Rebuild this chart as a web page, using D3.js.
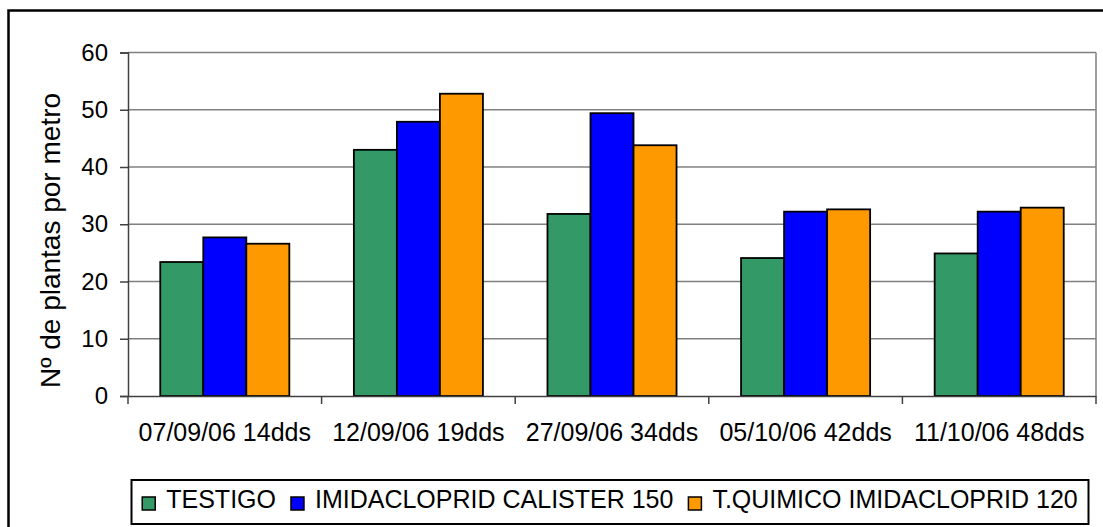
<!DOCTYPE html>
<html>
<head>
<meta charset="utf-8">
<script src="https://cdn.jsdelivr.net/npm/d3@7"></script>
<style>
  html, body { margin: 0; padding: 0; background: #fff; }
  svg { display: block; font-family: "Liberation Sans", Arial, sans-serif; }
</style>
</head>
<body>
<div id="chart"></div>
<script>
// --- data ---
const categories = ["07/09/06 14dds", "12/09/06 19dds", "27/09/06 34dds", "05/10/06 42dds", "11/10/06 48dds"];
const seriesNames = ["TESTIGO", "IMIDACLOPRID CALISTER 150", "T.QUIMICO IMIDACLOPRID 120"];
const testigo   = [23.4, 43.0, 31.8, 24.1, 24.9];
const calister  = [27.7, 47.9, 49.4, 32.2, 32.2];
const quimico   = [26.6, 52.8, 43.8, 32.6, 32.9];
const yTicks = [0, 10, 20, 30, 40, 50, 60];
const colors = ["#339966", "#0000FF", "#FF9900"];

const seriesValues = [testigo, calister, quimico];

const W = 1103, H = 527;
const plot = { left: 128, right: 1096, top: 52.5, bottom: 396 };

const svg = d3.select("#chart").append("svg")
    .attr("width", W).attr("height", H);

// outer chart frame (runs off the right/bottom of the picture)
svg.append("rect")
    .attr("x", 8.5).attr("y", 10.5)
    .attr("width", 1110).attr("height", 540)
    .attr("fill", "#fff").attr("stroke", "#000").attr("stroke-width", 2.5);

const x0 = d3.scaleBand().domain(categories).range([plot.left, plot.right]);
const gapPx = x0.bandwidth() * 0.75 / 4.5;   // excel gap width 150%
const x1 = d3.scaleBand().domain(d3.range(seriesNames.length))
    .range([gapPx, x0.bandwidth() - gapPx]);
const y = d3.scaleLinear().domain([0, 60]).range([plot.bottom, plot.top]);

// gridlines
svg.append("g").selectAll("line")
    .data(yTicks.filter(d => d > 0))
    .join("line")
    .attr("x1", plot.left).attr("x2", plot.right)
    .attr("y1", d => y(d)).attr("y2", d => y(d))
    .attr("stroke", "#808080").attr("stroke-width", 1.5);

// plot area right border
svg.append("line")
    .attr("x1", plot.right).attr("x2", plot.right)
    .attr("y1", plot.top).attr("y2", plot.bottom)
    .attr("stroke", "#808080").attr("stroke-width", 1.5);

// bars
const rows = categories.map((c, i) => ({ cat: c, vals: seriesValues.map(s => s[i]) }));
svg.append("g").selectAll("g")
    .data(rows)
    .join("g")
    .attr("transform", d => `translate(${x0(d.cat)},0)`)
    .selectAll("rect")
    .data(d => d.vals.map((v, k) => ({ k, v })))
    .join("rect")
    .attr("x", d => x1(d.k))
    .attr("width", x1.bandwidth())
    .attr("y", d => y(d.v))
    .attr("height", d => y(0) - y(d.v))
    .attr("fill", d => colors[d.k])
    .attr("stroke", "#000").attr("stroke-width", 1.8);

// y axis
const yAxis = svg.append("g")
    .attr("transform", `translate(${plot.left},0)`)
    .call(d3.axisLeft(y).tickValues(yTicks).tickSizeOuter(0).tickSize(8).tickPadding(12));
yAxis.select(".domain").attr("stroke", "#404040").attr("stroke-width", 1.5);
yAxis.selectAll(".tick line").attr("stroke", "#404040").attr("stroke-width", 1.5);
yAxis.selectAll(".tick text")
    .attr("fill", "#000").style("font-size", "24px")
    .attr("font-family", null);

// x axis
const xAxis = svg.append("g")
    .attr("transform", `translate(0,${plot.bottom})`)
    .call(d3.axisBottom(x0).tickSize(0).tickSizeOuter(0).tickPadding(27));
xAxis.select(".domain").attr("stroke", "#404040").attr("stroke-width", 1.5);
xAxis.selectAll(".tick text")
    .attr("fill", "#000").style("font-size", "25px")
    .attr("font-family", null);
// category separators
const bounds = categories.map(c => x0(c)).concat([plot.right]);
xAxis.append("g").selectAll("line")
    .data(bounds)
    .join("line")
    .attr("x1", d => d).attr("x2", d => d)
    .attr("y1", 0).attr("y2", 8)
    .attr("stroke", "#404040").attr("stroke-width", 1.5);

// y axis title
svg.append("text")
    .attr("transform", `translate(60,${(88 + 393) / 2}) rotate(-90)`)
    .attr("text-anchor", "middle")
    .style("font-size", "28px")
    .text("Nº de plantas por metro");

// legend
const lg = { x: 131.5, y: 480, w: 957, h: 44 };
svg.append("rect")
    .attr("x", lg.x).attr("y", lg.y).attr("width", lg.w).attr("height", lg.h)
    .attr("fill", "#fff").attr("stroke", "#000").attr("stroke-width", 2);

const legend = svg.append("g");
const items = legend.selectAll("g").data(seriesNames).join("g");
items.append("rect")
    .attr("width", 13).attr("height", 13)
    .attr("y", 497)
    .attr("fill", (d, i) => colors[i])
    .attr("stroke", "#000").attr("stroke-width", 1.5);
items.append("text")
    .attr("y", 508)
    .style("font-size", "25px")
    .text(d => d);

let cx = 0;
items.each(function () {
    const g = d3.select(this);
    g.select("rect").attr("x", cx);
    g.select("text").attr("x", cx + 24);
    cx += 24 + g.select("text").node().getComputedTextLength() + 15;
});
const total = cx - 15;
legend.attr("transform", `translate(${lg.x + (lg.w - total) / 2},0)`);
</script>
</body>
</html>
